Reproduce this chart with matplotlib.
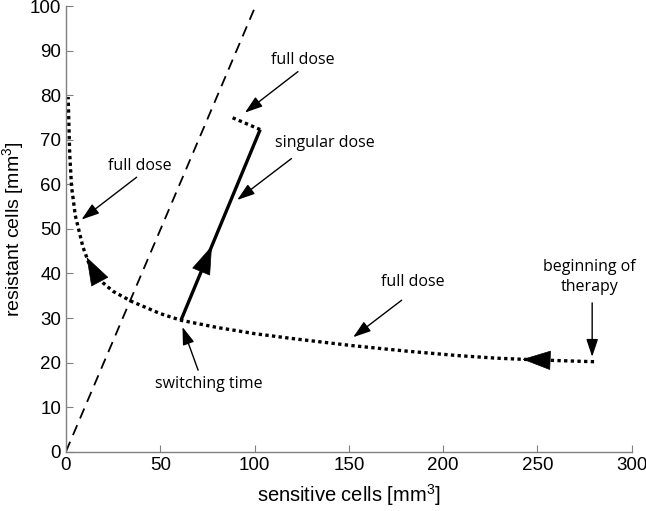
import numpy as np
from matplotlib import pyplot as plt

plt.rcParams["font.family"] = "Liberation Sans"
plt.rcParams["font.size"] = 12
plt.rcParams["mathtext.fontset"] = "custom"
plt.rcParams["mathtext.rm"] = "Liberation Sans"
plt.rcParams["mathtext.it"] = "Liberation Sans"

# full dose trajectory from the start of therapy (continues past switching point)
full_x = [280, 250, 228, 207, 180, 152, 120, 100, 80, 61, 50, 35, 25, 18, 12, 9, 7, 5, 3, 2, 1.2]
full_y = [20.2, 20.6, 21.0, 21.6, 22.6, 23.8, 25.4, 26.5, 27.9, 29.5, 31.0, 33.7, 36.0, 38.5,
          42.5, 46.0, 49.5, 53.0, 59.5, 67.0, 79.6]

# singular arc after the switching time
sing_x = [61, 103]
sing_y = [29.5, 72.3]

# final full dose piece
end_x = [103, 87]
end_y = [72.3, 75.2]

# dashed line
null_x = [0, 100.5]
null_y = [0, 100]

# annotations: text, text position, arrow tail, arrow tip
notes = [
    ("full dose", (125.7, 87.9), (123, 85.3), (94.9, 76.1)),
    ("singular dose", (137.3, 69.3), (119.6, 65.8), (90.8, 56.5)),
    ("full dose", (39.2, 64.1), (37.5, 61.6), (8.3, 52.1)),
    ("full dose", (184, 38.1), (178, 34.0), (152.3, 25.7)),
    ("beginning of\ntherapy", (277.7, 39.2), (279, 33.4), (279, 21.3)),
    ("switching time", (76, 15.3), (70.1, 18.3), (61.8, 28.0)),
]

HEAD = '-|>,head_length=1.6,head_width=0.55'


def head(ax, tip, base):
    # filled arrow head sitting on a trajectory
    ax.annotate('', xy=tip, xytext=base,
                arrowprops=dict(arrowstyle=HEAD, color='black', lw=0.5,
                                shrinkA=0, shrinkB=0))


fig = plt.figure(figsize=(6.46, 5.11), dpi=100)
ax = fig.add_axes([0.102, 0.116, 0.876, 0.872])

ax.plot(null_x, null_y, color='black', lw=1.3, dashes=(6, 4))
ax.plot(full_x, full_y, color='black', lw=2.4, linestyle=(0, (1, 1)))
ax.plot(sing_x, sing_y, color='black', lw=2.4, solid_capstyle='butt')
ax.plot(end_x, end_y, color='black', lw=2.4, linestyle=(0, (1, 1)))

# right part of the full dose curve, heading left
fx = np.asarray(full_x[:5], float)[::-1]
fy = np.asarray(full_y[:5], float)[::-1]
head(ax, (242, np.interp(242, fx, fy)), (256, np.interp(256, fx, fy)))
# left branch, heading up-left
lx = np.asarray(full_x[-9:], float)[::-1]
ly = np.asarray(full_y[-9:], float)[::-1]
head(ax, (11, np.interp(11, lx, ly)), (15, np.interp(15, lx, ly)))
# singular arc, heading up
frac_tip, frac_base = 0.39, 0.27
tip = (sing_x[0] + frac_tip * (sing_x[1] - sing_x[0]), sing_y[0] + frac_tip * (sing_y[1] - sing_y[0]))
base = (sing_x[0] + frac_base * (sing_x[1] - sing_x[0]), sing_y[0] + frac_base * (sing_y[1] - sing_y[0]))
head(ax, tip, base)

for txt, pos, tail, tipp in notes:
    ax.text(pos[0], pos[1], txt, ha='center', va='center', family='Open Sans',
            fontsize=11.5, linespacing=1.3)
    ax.annotate('', xy=tipp, xytext=tail,
                arrowprops=dict(arrowstyle='-|>,head_length=0.9,head_width=0.3',
                                color='black', lw=1.0, shrinkA=0, shrinkB=0))

ax.set_xlim(0, 300)
ax.set_ylim(0, 100)
ax.set_xticks(np.arange(0, 301, 50))
ax.set_yticks(np.arange(0, 101, 10))
ax.spines['top'].set_visible(False)
ax.spines['right'].set_visible(False)
for s in ('left', 'bottom'):
    ax.spines[s].set_color('#808080')
    ax.spines[s].set_linewidth(1.0)
ax.tick_params(direction='in', length=5, color='#808080', labelsize=13.5)

ax.set_xlabel('sensitive cells [mm$^3$]', fontsize=14.5)
ax.set_ylabel('resistant cells [mm$^3$]', fontsize=14)
ax.xaxis.set_label_coords(0.5, -0.068)
ax.yaxis.set_label_coords(-0.07, 0.5)

plt.savefig('out.png', dpi=100)
